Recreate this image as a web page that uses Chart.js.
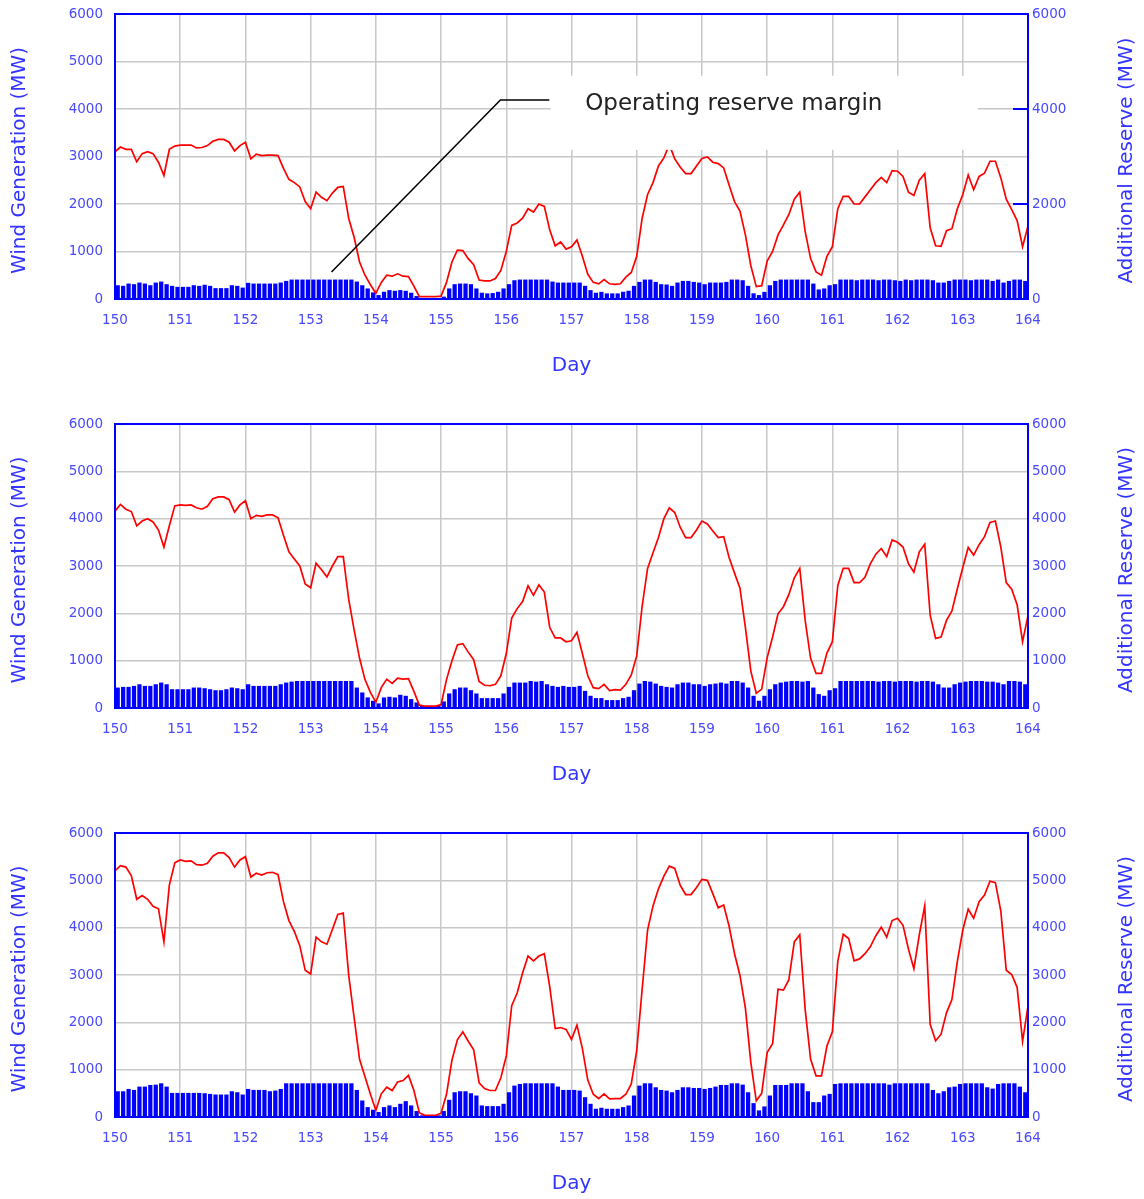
<!DOCTYPE html>
<html>
<head>
<meta charset="utf-8">
<script src="https://cdn.jsdelivr.net/npm/chart.js@4.4.1/dist/chart.umd.min.js"></script>
<style>
html, body { margin: 0; padding: 0; background: #fff; overflow: hidden; }
canvas { display: block; }
</style>
</head>
<body>
<canvas id="c1" width="1144" height="409"></canvas>
<canvas id="c2" width="1144" height="409"></canvas>
<canvas id="c3" width="1144" height="409"></canvas>
<script>
// wind generation, one value every 2 hours from day 150 to day 164
var windA = [
  3100, 3200, 3150, 3150, 2890, 3060, 3100, 3060, 2880, 2600,
  3150, 3220, 3240, 3240, 3240, 3180, 3190, 3230, 3320, 3360,
  3360, 3300, 3120, 3230, 3300, 2950, 3050, 3020, 3030, 3030,
  3020, 2750, 2520, 2450, 2360, 2050, 1900, 2250, 2140, 2070,
  2230, 2350, 2370, 1700, 1300, 780, 500, 300, 120, 350,
  500, 480, 530, 480, 470, 270, 50, 50, 50, 50,
  60, 350, 780, 1030, 1020, 850, 720, 400, 380, 380,
  430, 600, 1000, 1550, 1600, 1700, 1900, 1830, 2000, 1950,
  1450, 1120, 1200, 1050, 1100, 1240, 900, 520, 350, 320,
  410, 320, 310, 320, 460, 560, 900, 1700, 2200, 2450,
  2800, 2970, 3250, 2950, 2780, 2640, 2640, 2800, 2960, 2990,
  2880, 2850, 2760, 2400, 2050, 1850, 1350, 700, 260, 280,
  800, 1000, 1350, 1560, 1780, 2100, 2250, 1420, 850, 570,
  500, 900, 1100, 1900, 2160, 2160, 2000, 2000, 2150, 2300,
  2450, 2560, 2450, 2700, 2690, 2580, 2250, 2180, 2500, 2640,
  1500, 1120, 1110, 1440, 1480, 1900, 2200, 2610, 2300, 2580,
  2650, 2900, 2900, 2550, 2100, 1880, 1650, 1100, 1540
];
var windB = [
  4160, 4300, 4200, 4150, 3850, 3950, 4000, 3930, 3760, 3400,
  3850, 4270, 4290, 4280, 4290, 4230, 4200, 4260, 4420, 4460,
  4460, 4400, 4140, 4290, 4380, 4000, 4070, 4050, 4080, 4080,
  4020, 3650, 3300, 3150, 3000, 2620, 2540, 3060, 2920, 2770,
  3000, 3200, 3200, 2300, 1650, 1050, 600, 330, 120, 430,
  610, 520, 630, 610, 620, 350, 60, 40, 40, 40,
  70, 600, 1000, 1330, 1360, 1180, 1020, 560, 480, 470,
  500, 680, 1150, 1900, 2100, 2250, 2580, 2380, 2600, 2450,
  1700, 1480, 1480, 1400, 1420, 1600, 1150, 680, 430, 410,
  500, 370, 390, 380, 500, 700, 1100, 2150, 2950, 3280,
  3600, 4000, 4230, 4130, 3820, 3600, 3600, 3760, 3950, 3890,
  3740, 3600, 3620, 3180, 2850, 2530, 1700, 780, 310, 400,
  1060, 1500, 1990, 2140, 2400, 2750, 2950, 1850, 1050, 730,
  730, 1160, 1400, 2590, 2950, 2950, 2650, 2650, 2760, 3050,
  3250, 3370, 3200, 3550, 3500, 3400, 3050, 2870, 3300, 3460,
  1960, 1470, 1500, 1850, 2050, 2520, 2970, 3390, 3230, 3450,
  3620, 3920, 3950, 3400, 2650, 2510, 2180, 1400, 1950
];
var windC = [
  5200, 5310, 5280, 5100, 4600, 4680, 4600, 4450, 4400, 3700,
  4900, 5370, 5430, 5400, 5410, 5330, 5320, 5360, 5510, 5580,
  5580, 5480, 5280, 5430, 5500, 5070, 5150, 5110, 5160, 5170,
  5120, 4550, 4150, 3920, 3620, 3100, 3020, 3800, 3700, 3650,
  3960, 4280, 4310, 3000, 2100, 1220, 850, 480, 140, 490,
  630, 560, 740, 770, 880, 560, 90, 35, 35, 35,
  80, 480, 1200, 1630, 1800, 1600, 1420, 720, 600, 560,
  560, 830, 1290, 2350, 2620, 3040, 3400, 3300, 3400, 3450,
  2750, 1870, 1890, 1850, 1640, 1940, 1450, 780, 480, 390,
  490, 385, 390, 390, 480, 700, 1400, 2700, 3950, 4460,
  4820, 5090, 5300, 5250, 4900, 4700, 4700, 4850, 5020, 5000,
  4720, 4420, 4480, 4030, 3450, 2990, 2300, 1150, 340, 500,
  1360, 1550, 2700, 2680, 2900, 3700, 3850, 2270, 1220, 870,
  870, 1500, 1800, 3290, 3860, 3770, 3300, 3340, 3450, 3600,
  3830, 4010, 3800, 4150, 4200, 4050, 3550, 3130, 3850, 4460,
  1960, 1610, 1750, 2200, 2480, 3290, 3950, 4390, 4200, 4550,
  4690, 4980, 4950, 4350, 3100, 3010, 2740, 1600, 2340
];

// additional reserve, one bar every 2 hours (centred on the odd hours)
var resA = [
  290, 277, 325, 312, 346, 325, 290, 346, 367, 312,
  277, 256, 256, 256, 290, 277, 300, 277, 229, 229,
  229, 290, 277, 240, 340, 325, 325, 325, 325, 325,
  346, 381, 409, 409, 409, 409, 409, 409, 409, 409,
  409, 409, 409, 409, 367, 290, 222, 139, 83, 152,
  187, 173, 187, 173, 132, 62, 20, 20, 20, 20,
  50, 222, 312, 325, 325, 312, 222, 132, 118, 125,
  152, 222, 312, 395, 409, 409, 409, 409, 409, 409,
  367, 346, 346, 346, 346, 346, 277, 187, 132, 150,
  118, 118, 118, 152, 173, 277, 360, 409, 409, 360,
  312, 305, 277, 346, 381, 381, 360, 346, 312, 346,
  346, 346, 360, 409, 409, 395, 277, 120, 83, 150,
  290, 381, 409, 409, 409, 409, 409, 409, 325, 201,
  222, 290, 312, 409, 409, 409, 395, 409, 409, 409,
  395, 409, 409, 395, 381, 409, 395, 409, 409, 409,
  395, 346, 346, 381, 409, 409, 409, 395, 409, 409,
  409, 381, 409, 346, 381, 409, 409, 381
];
var resB = [
  432, 446, 446, 467, 502, 467, 467, 502, 537, 502,
  397, 397, 397, 397, 432, 432, 418, 397, 376, 376,
  397, 432, 418, 397, 502, 467, 467, 467, 467, 467,
  502, 537, 557, 571, 571, 571, 571, 571, 571, 571,
  571, 571, 571, 571, 432, 328, 223, 153, 98, 223,
  237, 223, 279, 258, 188, 118, 49, 28, 28, 49,
  139, 307, 397, 432, 432, 376, 307, 209, 209, 209,
  209, 307, 446, 537, 537, 537, 571, 557, 571, 502,
  467, 446, 467, 446, 446, 467, 362, 258, 209, 209,
  167, 167, 167, 209, 237, 376, 516, 571, 557, 516,
  467, 446, 432, 502, 537, 537, 502, 502, 467, 502,
  516, 537, 516, 571, 571, 537, 432, 258, 153, 258,
  397, 502, 537, 557, 571, 571, 557, 571, 432, 293,
  258, 376, 418, 571, 571, 571, 571, 571, 571, 571,
  557, 571, 571, 557, 571, 571, 571, 557, 571, 571,
  557, 502, 432, 432, 502, 537, 557, 571, 571, 571,
  557, 557, 537, 502, 571, 571, 557, 502
];
var resC = [
  544, 544, 593, 572, 642, 642, 677, 684, 712, 642,
  509, 509, 509, 509, 509, 509, 502, 488, 475, 475,
  475, 544, 523, 475, 593, 572, 572, 572, 544, 558,
  593, 712, 712, 712, 712, 712, 712, 712, 712, 712,
  712, 712, 712, 712, 572, 349, 209, 154, 105, 209,
  244, 209, 279, 335, 244, 126, 35, 35, 35, 35,
  126, 363, 523, 544, 544, 502, 454, 244, 230, 230,
  230, 279, 523, 663, 698, 712, 712, 712, 712, 712,
  712, 642, 572, 572, 572, 558, 419, 279, 174, 195,
  174, 174, 174, 209, 244, 454, 663, 712, 712, 628,
  572, 558, 523, 572, 628, 628, 614, 614, 593, 614,
  642, 677, 677, 712, 712, 684, 523, 293, 140, 223,
  454, 677, 677, 677, 712, 712, 712, 544, 314, 314,
  454, 488, 698, 712, 712, 712, 712, 712, 712, 712,
  712, 712, 684, 712, 712, 712, 712, 712, 712, 712,
  572, 502, 544, 628, 642, 698, 712, 712, 712, 712,
  628, 600, 698, 712, 712, 712, 642, 523
];

var firstDay = 150;
var lastDay = 164;
var stepDays = 2 / 24;

var fontFamily = '"DejaVu Sans", sans-serif';
var tickBlue = '#4848ff';
var titleBlue = '#3434ff';
var gridGrey = '#c8c8c8';

// text note on the top panel, placed in axis units
var noteText = 'Operating reserve margin';
var noteBox = { x1: 156.68, x2: 163.23, y1: 4700, y2: 3140 };
var notePos = { x: 157.21, y: 4100 };
var notePath = [[153.32, 570], [155.91, 4190], [156.66, 4190]];

var framePlugin = {
  id: 'frame',
  afterDatasetsDraw(chart, args, opts) {
    const ctx = chart.ctx;
    const a = chart.chartArea;
    const xs = chart.scales.x;
    const ys = chart.scales.y;
    ctx.save();

    if (opts.note) {
      ctx.fillStyle = '#ffffff';
      const bx1 = xs.getPixelForValue(noteBox.x1), bx2 = xs.getPixelForValue(noteBox.x2);
      const by1 = ys.getPixelForValue(noteBox.y1), by2 = ys.getPixelForValue(noteBox.y2);
      ctx.fillRect(bx1, by1, bx2 - bx1, by2 - by1);

      ctx.strokeStyle = '#000000';
      ctx.lineWidth = 1.5;
      ctx.beginPath();
      notePath.forEach((p, i) => {
        const px = xs.getPixelForValue(p[0]), py = ys.getPixelForValue(p[1]);
        if (i == 0) ctx.moveTo(px, py); else ctx.lineTo(px, py);
      });
      ctx.stroke();

      ctx.fillStyle = '#222222';
      ctx.font = '23px ' + fontFamily;
      ctx.textAlign = 'left';
      ctx.textBaseline = 'middle';
      ctx.fillText(noteText, xs.getPixelForValue(notePos.x), ys.getPixelForValue(notePos.y));
    }

    ctx.strokeStyle = '#0000ff';
    ctx.lineWidth = 2;
    ctx.strokeRect(a.left, a.top, a.right - a.left, a.bottom - a.top);

    if (opts.innerTicks) {
      const y2 = chart.scales.y2;
      ctx.beginPath();
      y2.ticks.forEach(t => {
        if (t.value > 0) {
          const py = Math.round(y2.getPixelForValue(t.value));
          ctx.moveTo(a.right - 15, py);
          ctx.lineTo(a.right, py);
        }
      });
      ctx.stroke();
    }

    ctx.fillStyle = titleBlue;
    ctx.font = '20px ' + fontFamily;
    ctx.textAlign = 'center';
    ctx.textBaseline = 'middle';
    const midY = (a.top + a.bottom) / 2 + 4;
    ctx.save();
    ctx.translate(20, midY);
    ctx.rotate(-Math.PI / 2);
    ctx.fillText('Wind Generation (MW)', 0, 0);
    ctx.restore();
    ctx.save();
    ctx.translate(1127, midY);
    ctx.rotate(-Math.PI / 2);
    ctx.fillText('Additional Reserve (MW)', 0, 0);
    ctx.restore();

    ctx.restore();
  }
};

// fixed side widths so the plot area sits where it does in the original
function sideFit(width) {
  return function(s) {
    s.width = width;
    s.paddingTop = 0;
    s.paddingBottom = 0;
  };
}

function buildChart(id, wind, reserve, rightStep, topPad, note) {
  const ctx = document.getElementById(id);
  return new Chart(ctx, {
    type: 'bar',
    data: {
      datasets: [
        {
          type: 'line',
          label: 'Wind Generation',
          data: wind.map((v, i) => ({ x: firstDay + i * stepDays, y: v })),
          borderColor: '#ff0000',
          borderWidth: 1.7,
          pointRadius: 0,
          tension: 0,
          yAxisID: 'y',
          order: 1
        },
        {
          type: 'bar',
          label: 'Additional Reserve',
          data: reserve.map((v, k) => ({ x: firstDay + (k + 0.5) * stepDays, y: v })),
          backgroundColor: '#0000ff',
          borderWidth: 0,
          barPercentage: 0.78,
          categoryPercentage: 1,
          grouped: false,
          yAxisID: 'y2',
          order: 2
        }
      ]
    },
    options: {
      responsive: false,
      animation: false,
      events: [],
      layout: { padding: { top: topPad, left: 0, right: 0, bottom: 0 } },
      plugins: {
        legend: { display: false },
        tooltip: { enabled: false },
        frame: { note: note, innerTicks: note }
      },
      scales: {
        x: {
          type: 'linear',
          position: 'bottom',
          min: firstDay,
          max: lastDay,
          offset: false,
          ticks: {
            stepSize: 1,
            color: tickBlue,
            font: { family: fontFamily, size: 13.5 },
            padding: 13,
            maxRotation: 0,
            callback: v => String(v)
          },
          grid: { color: gridGrey, lineWidth: 1.5, drawTicks: false, offset: false },
          border: { display: false },
          title: {
            display: true,
            text: 'Day',
            color: titleBlue,
            font: { family: fontFamily, size: 20 },
            padding: { top: 0, bottom: 31 }
          },
          afterFit: s => { s.height = 110; }
        },
        y: {
          type: 'linear',
          position: 'left',
          min: 0,
          max: 6000,
          ticks: {
            stepSize: 1000,
            color: tickBlue,
            font: { family: fontFamily, size: 13.5 },
            padding: 12,
            callback: v => String(v)
          },
          grid: { color: gridGrey, lineWidth: 1.5, drawTicks: false },
          border: { display: false },
          afterFit: sideFit(115)
        },
        y2: {
          type: 'linear',
          position: 'right',
          min: 0,
          max: 6000,
          ticks: {
            stepSize: rightStep,
            color: tickBlue,
            font: { family: fontFamily, size: 13.5 },
            padding: 4,
            callback: v => String(v)
          },
          grid: { display: false, drawTicks: false },
          border: { display: false },
          afterFit: sideFit(116)
        }
      }
    },
    plugins: [framePlugin]
  });
}

window.onload = function() {
  buildChart('c1', windA, resA, 2000, 14, true);
  buildChart('c2', windB, resB, 1000, 15, false);
  buildChart('c3', windC, resC, 1000, 15, false);
}
</script>
</body>
</html>
